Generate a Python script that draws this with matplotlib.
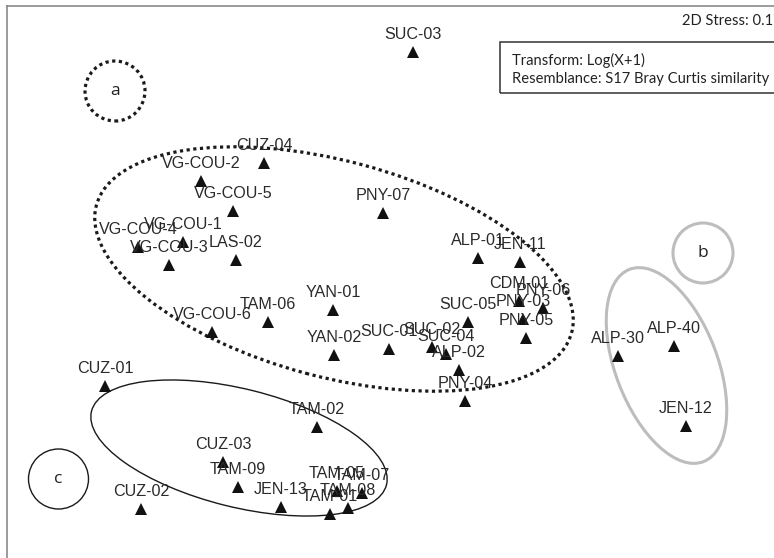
import matplotlib
matplotlib.use("Agg")
import matplotlib.pyplot as plt
from matplotlib.patches import Ellipse, Circle, Rectangle

# ---- data: nMDS ordination coordinates ----
sites = ["SUC-03", "CUZ-04", "VG-COU-2", "VG-COU-5", "PNY-07", "VG-COU-1",
         "VG-COU-4", "VG-COU-3", "LAS-02", "ALP-01", "JEN-11", "CDM-01",
         "PNY-06", "PNY-03", "PNY-05", "SUC-05", "YAN-01", "TAM-06",
         "VG-COU-6", "YAN-02", "SUC-01", "SUC-02", "SUC-04", "ALP-02",
         "PNY-04", "ALP-30", "ALP-40", "JEN-12", "CUZ-01", "TAM-02",
         "CUZ-03", "TAM-09", "CUZ-02", "JEN-13", "TAM-01", "TAM-08",
         "TAM-05", "TAM-07"]
mds1 = [0.26, -1.23, -1.86, -1.54, -0.04, -2.04,
        -2.49, -2.18, -1.51, 0.91, 1.33, 1.32,
        1.56, 1.36, 1.39, 0.81, -0.54, -1.19,
        -1.75, -0.53, 0.02, 0.45, 0.59, 0.72,
        0.78, 2.31, 2.87, 2.99, -2.82, -0.70,
        -1.64, -1.49, -2.46, -1.06, -0.57, -0.39,
        -0.50, -0.25]
mds2 = [2.27, 1.16, 0.98, 0.68, 0.66, 0.37,
        0.32, 0.14, 0.19, 0.21, 0.17, -0.22,
        -0.29, -0.40, -0.59, -0.43, -0.31, -0.43,
        -0.53, -0.76, -0.70, -0.68, -0.75, -0.91,
        -1.22, -0.77, -0.67, -1.47, -1.07, -1.48,
        -1.83, -2.08, -2.30, -2.28, -2.35, -2.29,
        -2.12, -2.14]

stress_text = "2D Stress: 0.17"
info_lines = ["Transform: Log(X+1)", "Resemblance: S17 Bray Curtis similarity"]
group_names = ["a", "b", "c"]

W, H = 774, 558
fig = plt.figure(figsize=(W / 100, H / 100), dpi=100)
# axes frame: left edge at px 7, top at px 6; right/bottom run off the figure
ax = fig.add_axes([7 / W, 1 - 600 / H, (800 - 7) / W, (600 - 6) / H])
ax.set_xlim(-3.80, 4.13)
ax.set_ylim(-3.21, 2.73)
ax.set_xticks([])
ax.set_yticks([])
for s in ax.spines.values():
    s.set_color("#808080")
    s.set_linewidth(1.1)

dotted = (0, (1, 1.1))
# group ellipses
ax.add_patch(Ellipse((-0.53, 0.10), 2 * 2.46, 2 * 1.08, angle=-15,
                     fill=False, ec="#1a1a1a", lw=2.3, ls=dotted))
ax.add_patch(Ellipse((2.795, -0.865), 2 * 1.03, 2 * 0.51, angle=-69,
                     fill=False, ec="#bdbdbd", lw=2.2))
ax.add_patch(Ellipse((-1.48, -1.69), 2 * 1.52, 2 * 0.59, angle=-14,
                     fill=False, ec="#1a1a1a", lw=1.0))

# legend-like group circles
circ = [(-2.72, 1.88), (3.16, 0.26), (-3.285, -2.00)]
ax.add_patch(Circle(circ[0], 0.30, fill=False, ec="#1a1a1a", lw=2.3, ls=dotted))
ax.add_patch(Circle(circ[1], 0.30, fill=False, ec="#bdbdbd", lw=2.2))
ax.add_patch(Circle(circ[2], 0.30, fill=False, ec="#1a1a1a", lw=1.0))
for name, (cx, cy) in zip(group_names, circ):
    ax.text(cx, cy, name, ha="center", va="center", fontsize=12.5,
            family="Open Sans", color="#222222")

# points
ax.plot(mds1, mds2, ls="none", marker="^", ms=8.6, color="#111111",
        markeredgewidth=0)
for name, x, y in zip(sites, mds1, mds2):
    ax.annotate(name, (x, y), xytext=(0, 9.4), textcoords="offset points",
                ha="center", va="baseline", fontsize=11.6,
                family="Liberation Sans", color="#2a2a2a")

# annotations (fit the humanist-sans text to the reference line length)
renderer = fig.canvas.get_renderer()
probe = fig.text(0, 0, info_lines[1], fontsize=11, family="Lato")
w = probe.get_window_extent(renderer).width
probe.remove()
fs = 11 * 257.0 / w

fig.text(682 / W, 1 - 25 / H, stress_text, ha="left", va="baseline",
         fontsize=fs, family="Lato", color="#222222")
fig.text(512 / W, 1 - 65 / H, info_lines[0], ha="left", va="baseline",
         fontsize=fs, family="Lato", color="#222222")
fig.text(512 / W, 1 - 83 / H, info_lines[1], ha="left", va="baseline",
         fontsize=fs, family="Lato", color="#222222")
fig.patches.append(Rectangle((500 / W, 1 - 93 / H), 300 / W, 51 / H,
                             transform=fig.transFigure, fill=False,
                             ec="#333333", lw=1.1))

fig.savefig("out.png", dpi=100)
